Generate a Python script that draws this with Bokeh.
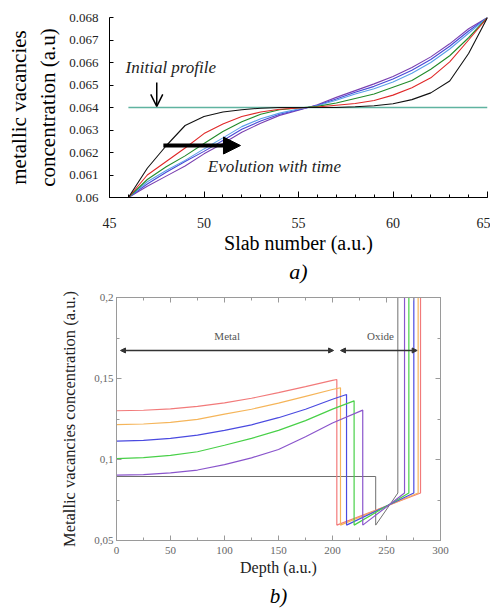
from bokeh.plotting import figure
from bokeh.models import Range1d, LinearAxis, FixedTicker, Arrow, NormalHead, OpenHead, Label, Title
from bokeh.embed import file_html
from bokeh.resources import INLINE

# ---------------- panel a) data ----------------
slab = list(range(46, 66))
conc_black = [0.0600, 0.0613, 0.0623, 0.0632, 0.0636, 0.0638, 0.0639, 0.06397, 0.0640, 0.0640,
              0.0640, 0.0640, 0.06403, 0.06408, 0.06417, 0.06435, 0.06465, 0.06518, 0.0664, 0.0680]
conc_red = [0.0600, 0.0610, 0.0616, 0.0622, 0.06284, 0.06327, 0.0636, 0.0638, 0.06392, 0.06398,
            0.06402, 0.0641, 0.06418, 0.06431, 0.06455, 0.06488, 0.06532, 0.06603, 0.0670, 0.0680]
conc_green = [0.0600, 0.0608, 0.06137, 0.06185, 0.0624, 0.06293, 0.06337, 0.0637, 0.0639, 0.06398,
              0.06405, 0.0642, 0.0644, 0.0646, 0.0649, 0.0652, 0.0657, 0.0663, 0.0671, 0.0680]
conc_lightblue = [0.0600, 0.0607, 0.0612, 0.06165, 0.06216, 0.06265, 0.06315, 0.0635, 0.06375, 0.06393,
                  0.06408, 0.06432, 0.0646, 0.06483, 0.06513, 0.06552, 0.0660, 0.0666, 0.0673, 0.0680]
conc_blue = [0.0600, 0.0606, 0.06112, 0.0616, 0.06205, 0.06253, 0.06303, 0.0634, 0.0637, 0.0639,
             0.0641, 0.06438, 0.06468, 0.06494, 0.06527, 0.06566, 0.06613, 0.06672, 0.0674, 0.0680]
conc_purple = [0.0600, 0.0605, 0.06095, 0.0614, 0.06194, 0.0624, 0.0629, 0.0633, 0.06365, 0.06388,
               0.06412, 0.06445, 0.06475, 0.06505, 0.06538, 0.06578, 0.06625, 0.06683, 0.0675, 0.0680]
initial_x = [46, 65]
initial_y = [0.064, 0.064]

xa_ticks = [45, 50, 55, 60, 65]
xa_minor = list(range(45, 66))
ya_ticks = [0.06, 0.061, 0.062, 0.063, 0.064, 0.065, 0.066, 0.067, 0.068]
ya_labels = ["0.06", "0.061", "0.062", "0.063", "0.064", "0.065", "0.066", "0.067", "0.068"]

# ---------------- panel b) data ----------------
depth_grid = [0, 25, 50, 75, 100, 125, 150, 175, 200]
metal_red = [0.1301, 0.1304, 0.1313, 0.1328, 0.1350, 0.1378, 0.1413, 0.1450, 0.1488]
metal_orange = [0.1215, 0.1219, 0.1229, 0.1248, 0.1280, 0.1310, 0.1348, 0.1390, 0.1432]
metal_blue = [0.1114, 0.1118, 0.1130, 0.1150, 0.1180, 0.1214, 0.1258, 0.1310, 0.1372]
metal_green = [0.1006, 0.1011, 0.1025, 0.1048, 0.1088, 0.1130, 0.1180, 0.1240, 0.1311]
metal_purple = [0.0904, 0.0907, 0.0917, 0.0935, 0.0968, 0.1010, 0.1062, 0.1140, 0.1225]
interface_depth = [204, 207.4, 213, 220, 228]
interface_conc = [0.1494, 0.1443, 0.1401, 0.1362, 0.1305]
surface_depth = [281.5, 279.3, 275.3, 270.7, 266.7]
oxide_low = 0.0595
oxide_high = 0.0793
oxide_top = 0.21
initial_b_depth = [0, 240, 240, 260.5, 260.5]
initial_b_conc = [0.0895, 0.0895, 0.0595, 0.0793, 0.21]

xb_ticks = [0, 50, 100, 150, 200, 250, 300]
xb_minor = [0, 25, 50, 75, 100, 125, 150, 175, 200, 225, 250, 275, 300]
yb_ticks = [0.05, 0.1, 0.15, 0.2]
yb_minor = [0.05, 0.075, 0.1, 0.125, 0.15, 0.175, 0.2]
yb_labels = ["0,05", "0,1", "0,15", "0,2"]

SERIF = "Liberation Serif"

# ================= panel a =================
pa = figure(width=490, height=290, x_range=Range1d(45, 65), y_range=Range1d(0.06, 0.068),
            output_backend="svg", toolbar_location=None,
            min_border_left=109, min_border_right=3, min_border_top=17, min_border_bottom=93)
pa.grid.visible = False
pa.outline_line_color = None

xa = pa.xaxis[0]
xa.ticker = FixedTicker(ticks=xa_ticks, minor_ticks=xa_minor)
xa.major_tick_in = 6
xa.major_tick_out = 0
xa.minor_tick_in = 3
xa.minor_tick_out = 0
xa.axis_line_color = "black"
xa.major_tick_line_color = "black"
xa.minor_tick_line_color = "black"
xa.major_label_standoff = 20
xa.major_label_text_font = SERIF
xa.major_label_text_font_size = "14px"
xa.major_label_text_color = "#222"
xa.axis_label = "Slab number (a.u.)"
xa.axis_label_text_font = SERIF
xa.axis_label_text_font_style = "normal"
xa.axis_label_text_font_size = "20px"
xa.axis_label_text_color = "black"
xa.axis_label_standoff = 1

ya = pa.yaxis[0]
ya.ticker = FixedTicker(ticks=ya_ticks, minor_ticks=[])
ya.major_label_overrides = dict(zip(ya_ticks, ya_labels))
ya.major_tick_in = 4
ya.major_tick_out = 0
ya.axis_line_color = "black"
ya.major_tick_line_color = "black"
ya.major_label_standoff = 11
ya.major_label_text_font = SERIF
ya.major_label_text_font_size = "13px"
ya.major_label_text_color = "#222"
ya.axis_label = "metallic vacancies\nconcentration (a.u)"
ya.axis_label_text_font = SERIF
ya.axis_label_text_font_style = "normal"
ya.axis_label_text_font_size = "21px"
ya.axis_label_text_color = "black"
ya.axis_label_standoff = 6

pa.line(initial_x, initial_y, line_color="#5fb3a0", line_width=1.5)
for ys, col in [(conc_purple, "#7a3fb0"), (conc_blue, "#4848d8"), (conc_lightblue, "#5aa0e8"),
                (conc_green, "#228b2a"), (conc_red, "#e02828"), (conc_black, "#111111")]:
    pa.line(slab, ys, line_color=col, line_width=1.1)

pa.add_layout(Label(x=45.85, y=0.06578, text="Initial profile", text_font=SERIF,
                    text_font_style="italic", text_font_size="17px", text_baseline="middle",
                    text_color="#222"))
pa.add_layout(Arrow(x_start=47.5, y_start=0.06511, x_end=47.5, y_end=0.06405,
                    line_width=1.5, line_color="black",
                    end=OpenHead(size=12, line_width=1.5, line_color="black")))
pa.add_layout(Arrow(x_start=47.85, y_start=0.06231, x_end=51.93, y_end=0.06231,
                    line_width=4, line_color="black",
                    end=NormalHead(size=17, fill_color="black", line_color="black")))
pa.add_layout(Label(x=50.2, y=0.06138, text="Evolution with time", text_font=SERIF,
                    text_font_style="italic", text_font_size="17px", text_baseline="middle",
                    text_color="#222"))
pa.add_layout(Title(text="a)", align="center", text_font=SERIF, text_font_style="italic",
                    text_font_size="22px", text_color="black", standoff=0), "below")

# ================= panel b =================
pb = figure(width=490, height=320, x_range=Range1d(0, 300), y_range=Range1d(0.05, 0.2),
            output_backend="svg", toolbar_location=None,
            min_border_left=116, min_border_right=50, min_border_top=7, min_border_bottom=67)
pb.grid.visible = False
pb.outline_line_color = "#9a9a9a"

GRAY = "#9a9a9a"
xb = pb.xaxis[0]
xb.ticker = FixedTicker(ticks=xb_ticks, minor_ticks=xb_minor)
yb = pb.yaxis[0]
yb.ticker = FixedTicker(ticks=yb_ticks, minor_ticks=yb_minor)
yb.major_label_overrides = dict(zip(yb_ticks, yb_labels))

top_ax = LinearAxis(ticker=FixedTicker(ticks=xb_ticks, minor_ticks=xb_minor),
                    major_label_overrides={t: "" for t in xb_ticks}, major_label_standoff=0)
right_ax = LinearAxis(ticker=FixedTicker(ticks=yb_ticks, minor_ticks=yb_minor),
                      major_label_overrides={t: "" for t in yb_ticks}, major_label_standoff=0)
pb.add_layout(top_ax, "above")
pb.add_layout(right_ax, "right")
for ax in [xb, yb, top_ax, right_ax]:
    ax.axis_line_color = GRAY
    ax.major_tick_line_color = GRAY
    ax.minor_tick_line_color = GRAY
    ax.major_tick_in = 5
    ax.major_tick_out = 0
    ax.minor_tick_in = 3
    ax.minor_tick_out = 0
for ax in [xb, yb]:
    ax.major_label_text_font = SERIF
    ax.major_label_text_font_size = "11px"
    ax.major_label_text_color = "#666"
    ax.axis_label_text_font = SERIF
    ax.axis_label_text_font_style = "normal"
    ax.axis_label_text_color = "#222"
xb.major_label_standoff = 6
xb.axis_label = "Depth (a.u.)"
xb.axis_label_standoff = 2
xb.axis_label_text_font_size = "16px"
yb.major_label_standoff = 3
yb.axis_label = "Metallic vacancies concentration (a.u.)"
yb.axis_label_standoff = 12
yb.axis_label_text_font_size = "16.5px"

pb.line(initial_b_depth, initial_b_conc, line_color="#707070", line_width=1)
metal_series = [metal_red, metal_orange, metal_blue, metal_green, metal_purple]
b_colors = ["#f27a7a", "#f5b55a", "#4a4ae0", "#48d048", "#8a55cc"]
for i, vals in enumerate(metal_series):
    xs = depth_grid + [interface_depth[i], interface_depth[i], surface_depth[i], surface_depth[i]]
    ys = vals + [interface_conc[i], oxide_low, oxide_high, oxide_top]
    pb.line(xs, ys, line_color=b_colors[i], line_width=1.2)

pb.add_layout(Arrow(x_start=3.7, y_start=0.1673, x_end=201, y_end=0.1673, line_width=1.6,
                    line_color="#333",
                    start=NormalHead(size=5, fill_color="#333", line_color="#333"),
                    end=NormalHead(size=5, fill_color="#333", line_color="#333")))
pb.add_layout(Arrow(x_start=207.4, y_start=0.1673, x_end=278.4, y_end=0.1673, line_width=1.6,
                    line_color="#333",
                    start=NormalHead(size=5, fill_color="#333", line_color="#333"),
                    end=NormalHead(size=5, fill_color="#333", line_color="#333")))
pb.add_layout(Label(x=102.5, y=0.1762, text="Metal", text_font=SERIF, text_font_size="11px",
                    text_align="center", text_baseline="middle", text_color="#555"))
pb.add_layout(Label(x=244.4, y=0.1762, text="Oxide", text_font=SERIF, text_font_size="11px",
                    text_align="center", text_baseline="middle", text_color="#555"))
pb.add_layout(Title(text="b)", align="center", text_font=SERIF, text_font_style="italic",
                    text_font_size="21px", text_color="black", standoff=6), "below")

open("out.html", "w").write(file_html([pa, pb], INLINE))
